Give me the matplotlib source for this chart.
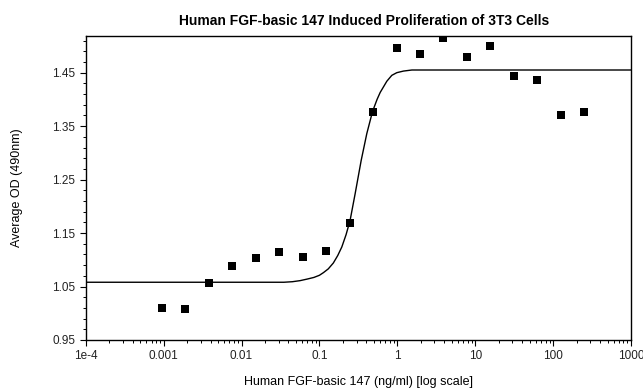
import numpy as np
import matplotlib
matplotlib.use("Agg")
import matplotlib.pyplot as plt
from matplotlib.ticker import FixedLocator, LogLocator, NullFormatter

plt.rcParams['font.family'] = ['Liberation Sans', 'DejaVu Sans']

# two-fold dilution series, ng/ml
conc = [0.000954, 0.00191, 0.00381, 0.00763, 0.0153, 0.0305, 0.0610, 0.122,
        0.244, 0.488, 0.977, 1.95, 3.91, 7.81, 15.6, 31.25, 62.5, 125, 250]
od = [1.010, 1.008, 1.057, 1.088, 1.103, 1.115, 1.106, 1.117,
      1.168, 1.377, 1.497, 1.484, 1.515, 1.479, 1.500, 1.444, 1.437, 1.370, 1.377]

# fitted curve
fit_x = [0.0001, 0.035, 0.045, 0.0565, 0.07, 0.085, 0.1, 0.1127, 0.13, 0.151, 0.172,
         0.194, 0.22, 0.248, 0.288, 0.344, 0.406, 0.480, 0.55, 0.603, 0.734, 0.85,
         0.986, 1.2, 1.54, 1000]
fit_y = [1.058, 1.058, 1.059, 1.061, 1.064, 1.067, 1.071, 1.076, 1.083, 1.094, 1.108,
         1.124, 1.147, 1.174, 1.224, 1.286, 1.336, 1.377, 1.400, 1.413, 1.434, 1.445,
         1.450, 1.453, 1.455, 1.455]

x_ticks = [1e-4, 1e-3, 1e-2, 1e-1, 1, 10, 100, 1000]
x_labels = ['1e-4', '0.001', '0.01', '0.1', '1', '10', '100', '1000']
y_ticks = [0.95, 1.05, 1.15, 1.25, 1.35, 1.45]

fig = plt.figure(figsize=(6.43, 3.89), dpi=100)
ax = fig.add_axes([0.1333, 0.126, 0.848, 0.782])

ax.plot(fit_x, fit_y, color='black', lw=1.0)
ax.plot(conc, od, 's', color='black', markersize=5.2, markeredgewidth=0)

ax.set_xscale('log')
ax.set_xlim(1e-4, 1000)
ax.set_ylim(0.95, 1.519)

ax.set_xticks(x_ticks)
ax.set_xticklabels(x_labels)
ax.xaxis.set_minor_locator(LogLocator(base=10, subs=np.arange(2, 10)))
ax.xaxis.set_minor_formatter(NullFormatter())
ax.set_yticks(y_ticks)
ax.set_yticklabels(['%.2f' % v for v in y_ticks])
ax.yaxis.set_minor_locator(FixedLocator(np.arange(0.97, 1.52, 0.02)))

ax.tick_params(which='major', direction='out', length=4.5, width=0.8, pad=3,
               labelsize=8.5, colors='black', labelcolor='#222222')
ax.tick_params(which='minor', direction='out', length=2.5, width=0.7)
for s in ax.spines.values():
    s.set_linewidth(1.0)

ax.set_title('Human FGF-basic 147 Induced Proliferation of 3T3 Cells',
             fontsize=10, fontweight='bold', pad=8, x=0.511)
ax.set_xlabel('Human FGF-basic 147 (ng/ml) [log scale]', fontsize=9, labelpad=10)
ax.set_ylabel('Average OD (490nm)', fontsize=9, labelpad=21)

fig.savefig('out.png', dpi=100)
